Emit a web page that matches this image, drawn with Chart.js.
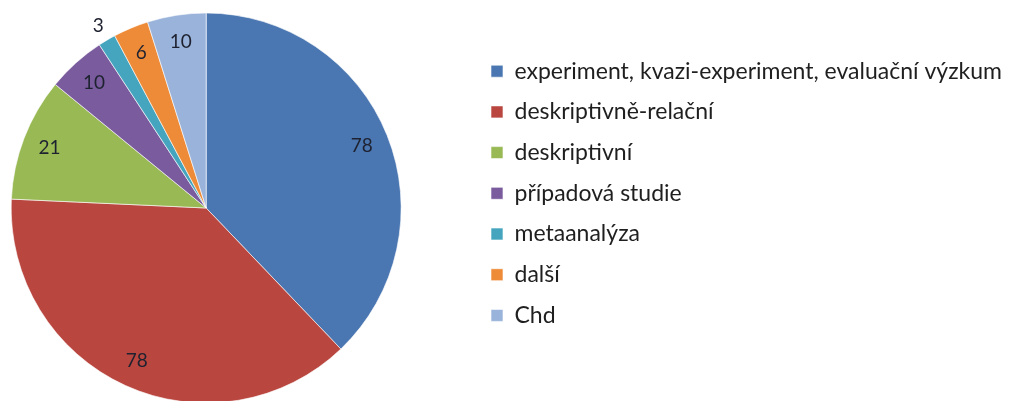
<!DOCTYPE html>
<html>
<head>
<meta charset="utf-8">
<script src="https://cdn.jsdelivr.net/npm/chart.js@4/dist/chart.umd.min.js"></script>
<style>
  html, body { margin: 0; padding: 0; background: #fff; overflow: hidden; }
  /* the canvas is wider than the window and shifted left so the pie sits near the left edge */
  .wrap { position: absolute; left: -61px; top: 0; width: 1076px; height: 406px; }
</style>
</head>
<body>
<div class="wrap"><canvas id="myChart"></canvas></div>
<script>
/* DATA */
const categories = [
  'experiment, kvazi-experiment, evaluační výzkum',
  'deskriptivně-relační',
  'deskriptivní',
  'případová studie',
  'metaanalýza',
  'další',
  'Chd'
];
const counts = [78, 78, 21, 10, 3, 6, 10];
const sliceColors = ['#4A76B1', '#B9463F', '#98B954', '#7A5C9E', '#45A5BF', '#EE8B38', '#9AB3DA'];

/* draw the numbers on the slices, small ones outside */
const sliceLabels = {
  id: 'sliceLabels',
  afterDatasetsDraw(chart) {
    const ctx = chart.ctx;
    const meta = chart.getDatasetMeta(0);
    const data = chart.data.datasets[0].data;
    const total = data.reduce((a, b) => a + b, 0);
    ctx.save();
    ctx.font = '19px Lato';
    ctx.fillStyle = '#1e2230';
    ctx.textAlign = 'center';
    ctx.textBaseline = 'middle';
    meta.data.forEach(function(arc, i) {
      const p = arc.getProps(['x', 'y', 'startAngle', 'endAngle', 'outerRadius'], true);
      const mid = (p.startAngle + p.endAngle) / 2;
      const r = data[i] / total < 0.02 ? p.outerRadius + 17 : p.outerRadius * 0.86;
      ctx.fillText(String(data[i]), p.x + Math.cos(mid) * r, p.y + Math.sin(mid) * r);
    });
    ctx.restore();
  }
};

const ctx = document.getElementById('myChart').getContext('2d');

const chart = new Chart(ctx, {
  type: 'pie',
  data: {
    labels: categories,
    datasets: [{
      data: counts,
      backgroundColor: sliceColors,
      borderColor: 'rgba(255,255,255,0.6)',
      borderWidth: 1,
      hoverOffset: 0
    }]
  },
  options: {
    responsive: true,
    maintainAspectRatio: false,
    animation: false,
    radius: 195,
    layout: { padding: { left: 0, right: 3, top: 13, bottom: 3 } },
    plugins: {
      tooltip: { enabled: false },
      legend: {
        position: 'right',
        align: 'start',
        maxWidth: 600,
        title: { display: true, text: ' ', font: { size: 10, lineHeight: 1 }, padding: { top: 19, bottom: 0 } },
        labels: {
          font: { family: 'Lato', size: 23 },
          color: '#1f1f1f',
          boxWidth: 12,
          boxHeight: 12,
          padding: 17.7
        }
      }
    }
  },
  plugins: [sliceLabels]
});
</script>
</body>
</html>
